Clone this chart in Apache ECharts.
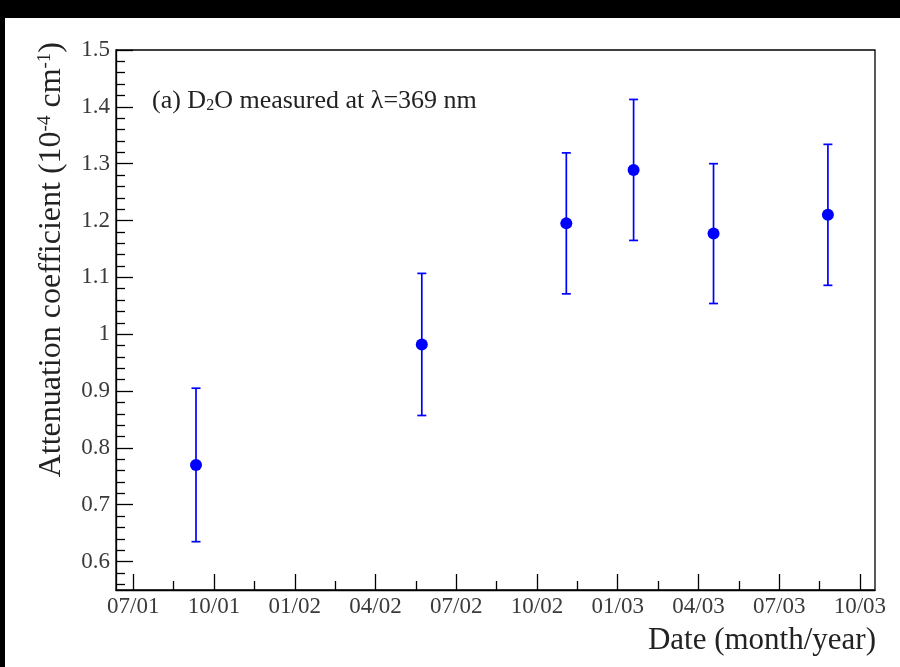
<!DOCTYPE html>
<html>
<head>
<meta charset="utf-8">
<script src="https://cdn.jsdelivr.net/npm/echarts@6/dist/echarts.min.js"></script>
<style>
html,body{margin:0;padding:0;background:#fff;}
#c{width:900px;height:667px;}
</style>
</head>
<body>
<div id="c"></div>
<script>
// ---- data (x = months since Jan 2001) ----
const dates  = [8.33, 16.72, 22.09, 24.59, 27.56, 31.81];
const values = [0.770, 0.982, 1.195, 1.289, 1.177, 1.210];
const errors = [0.135, 0.125, 0.124, 0.124, 0.123, 0.124];

const xTickValues = [6, 9, 12, 15, 18, 21, 24, 27, 30, 33];
const xTickLabels = ['07/01','10/01','01/02','04/02','07/02','10/02','01/03','04/03','07/03','10/03'];
const xMinorValues = [7.5, 10.5, 13.5, 16.5, 19.5, 22.5, 25.5, 28.5, 31.5];
const yTickValues = [0.6, 0.7, 0.8, 0.9, 1.0, 1.1, 1.2, 1.3, 1.4, 1.5];
const yTickLabels = ['0.6','0.7','0.8','0.9','1','1.1','1.2','1.3','1.4','1.5'];
const yMinorValues = [];
for (let k = 28; k <= 75; k++) { if (k % 5 !== 0) yMinorValues.push(k / 50); }

const X_MIN = 5.357, X_MAX = 33.56, Y_MIN = 0.55, Y_MAX = 1.5;
const FONT = 'Liberation Serif';
const chart = echarts.init(document.getElementById('c'), null, {renderer: 'canvas'});

function lab(vals, labels) {
  return v => {
    let best = 0;
    for (let i = 0; i < vals.length; i++) if (Math.abs(vals[i] - v) < Math.abs(vals[best] - v)) best = i;
    return labels[best];
  };
}

const tickLine = {color: '#000', width: 1.3};
const option = {
  backgroundColor: '#fff',
  animation: false,
  grid: {left: 116, top: 50, right: 25, bottom: 77, show: true, borderColor: '#000', borderWidth: 1.3, backgroundColor: '#fff'},
  xAxis: [
    {type: 'value', min: X_MIN, max: X_MAX, position: 'bottom',
     axisLine: {show: true, lineStyle: {color: '#000', width: 1.3}},
     axisTick: {show: true, inside: true, length: 16, customValues: xTickValues, lineStyle: tickLine},
     axisLabel: {show: true, customValues: xTickValues, formatter: lab(xTickValues, xTickLabels), margin: 5,
                 fontFamily: FONT, fontSize: 23, color: '#3a3a3a'},
     splitLine: {show: false}},
    {type: 'value', min: X_MIN, max: X_MAX, position: 'bottom',
     axisLine: {show: false},
     axisTick: {show: true, inside: true, length: 9, customValues: xMinorValues, lineStyle: tickLine},
     axisLabel: {show: false}, splitLine: {show: false}}
  ],
  yAxis: [
    {type: 'value', min: Y_MIN, max: Y_MAX, position: 'left',
     axisLine: {show: true, lineStyle: {color: '#000', width: 1.3}},
     axisTick: {show: true, inside: true, length: 17, customValues: yTickValues, lineStyle: tickLine},
     axisLabel: {show: true, customValues: yTickValues, formatter: lab(yTickValues, yTickLabels), margin: 6,
                 fontFamily: FONT, fontSize: 23, color: '#3a3a3a'},
     splitLine: {show: false}},
    {type: 'value', min: Y_MIN, max: Y_MAX, position: 'left',
     axisLine: {show: false},
     axisTick: {show: true, inside: true, length: 9, customValues: yMinorValues, lineStyle: tickLine},
     axisLabel: {show: false}, splitLine: {show: false}}
  ],
  graphic: [
    {type: 'rect', left: 0, top: 0, shape: {width: 900, height: 18}, style: {fill: '#000'}, silent: true},
    {type: 'rect', left: 0, top: 0, shape: {width: 5, height: 667}, style: {fill: '#000'}, silent: true},
    {type: 'text', x: 152, y: 101, silent: true,
     style: {text: '(a) D{sub|2}O measured at λ=369 nm', fill: '#222', font: '26px "Liberation Serif"',
             verticalAlign: 'middle', align: 'left',
             rich: {sub: {fontSize: 16, fontFamily: FONT, fill: '#222', verticalAlign: 'bottom', lineHeight: 14}}}},
    {type: 'text', x: 876, y: 641, silent: true,
     style: {text: 'Date (month/year)', fill: '#222', font: '31px "Liberation Serif"', align: 'right', verticalAlign: 'middle'}},
    {type: 'text', x: 52, y: 42, rotation: Math.PI / 2, silent: true,
     style: {text: 'Attenuation coefficient (10{sup|-4} cm{sup|-1})', fill: '#222', font: '32px "Liberation Serif"',
             align: 'right', verticalAlign: 'middle',
             rich: {sup: {fontSize: 19, fontFamily: FONT, fill: '#222', verticalAlign: 'top', lineHeight: 17}}}}
  ],
  series: [
    {type: 'custom', xAxisIndex: 0, yAxisIndex: 0, z: 3,
     data: dates.map((d, i) => [d, values[i] - errors[i], values[i] + errors[i]]),
     encode: {x: 0, y: [1, 2]},
     renderItem: function (params, api) {
       const x = api.value(0);
       const p1 = api.coord([x, api.value(1)]);
       const p2 = api.coord([x, api.value(2)]);
       const cw = 4.5;
       const st = {stroke: '#0000ff', lineWidth: 1.7};
       return {type: 'group', children: [
         {type: 'line', shape: {x1: p1[0], y1: p1[1], x2: p2[0], y2: p2[1]}, style: st},
         {type: 'line', shape: {x1: p1[0] - cw, y1: p1[1], x2: p1[0] + cw, y2: p1[1]}, style: st},
         {type: 'line', shape: {x1: p2[0] - cw, y1: p2[1], x2: p2[0] + cw, y2: p2[1]}, style: st}
       ]};
     }},
    {type: 'scatter', xAxisIndex: 0, yAxisIndex: 0, z: 4,
     data: dates.map((d, i) => [d, values[i]]),
     symbol: 'circle', symbolSize: 12, itemStyle: {color: '#0000ff', opacity: 1}}
  ]
};
chart.setOption(option);
</script>
</body>
</html>
